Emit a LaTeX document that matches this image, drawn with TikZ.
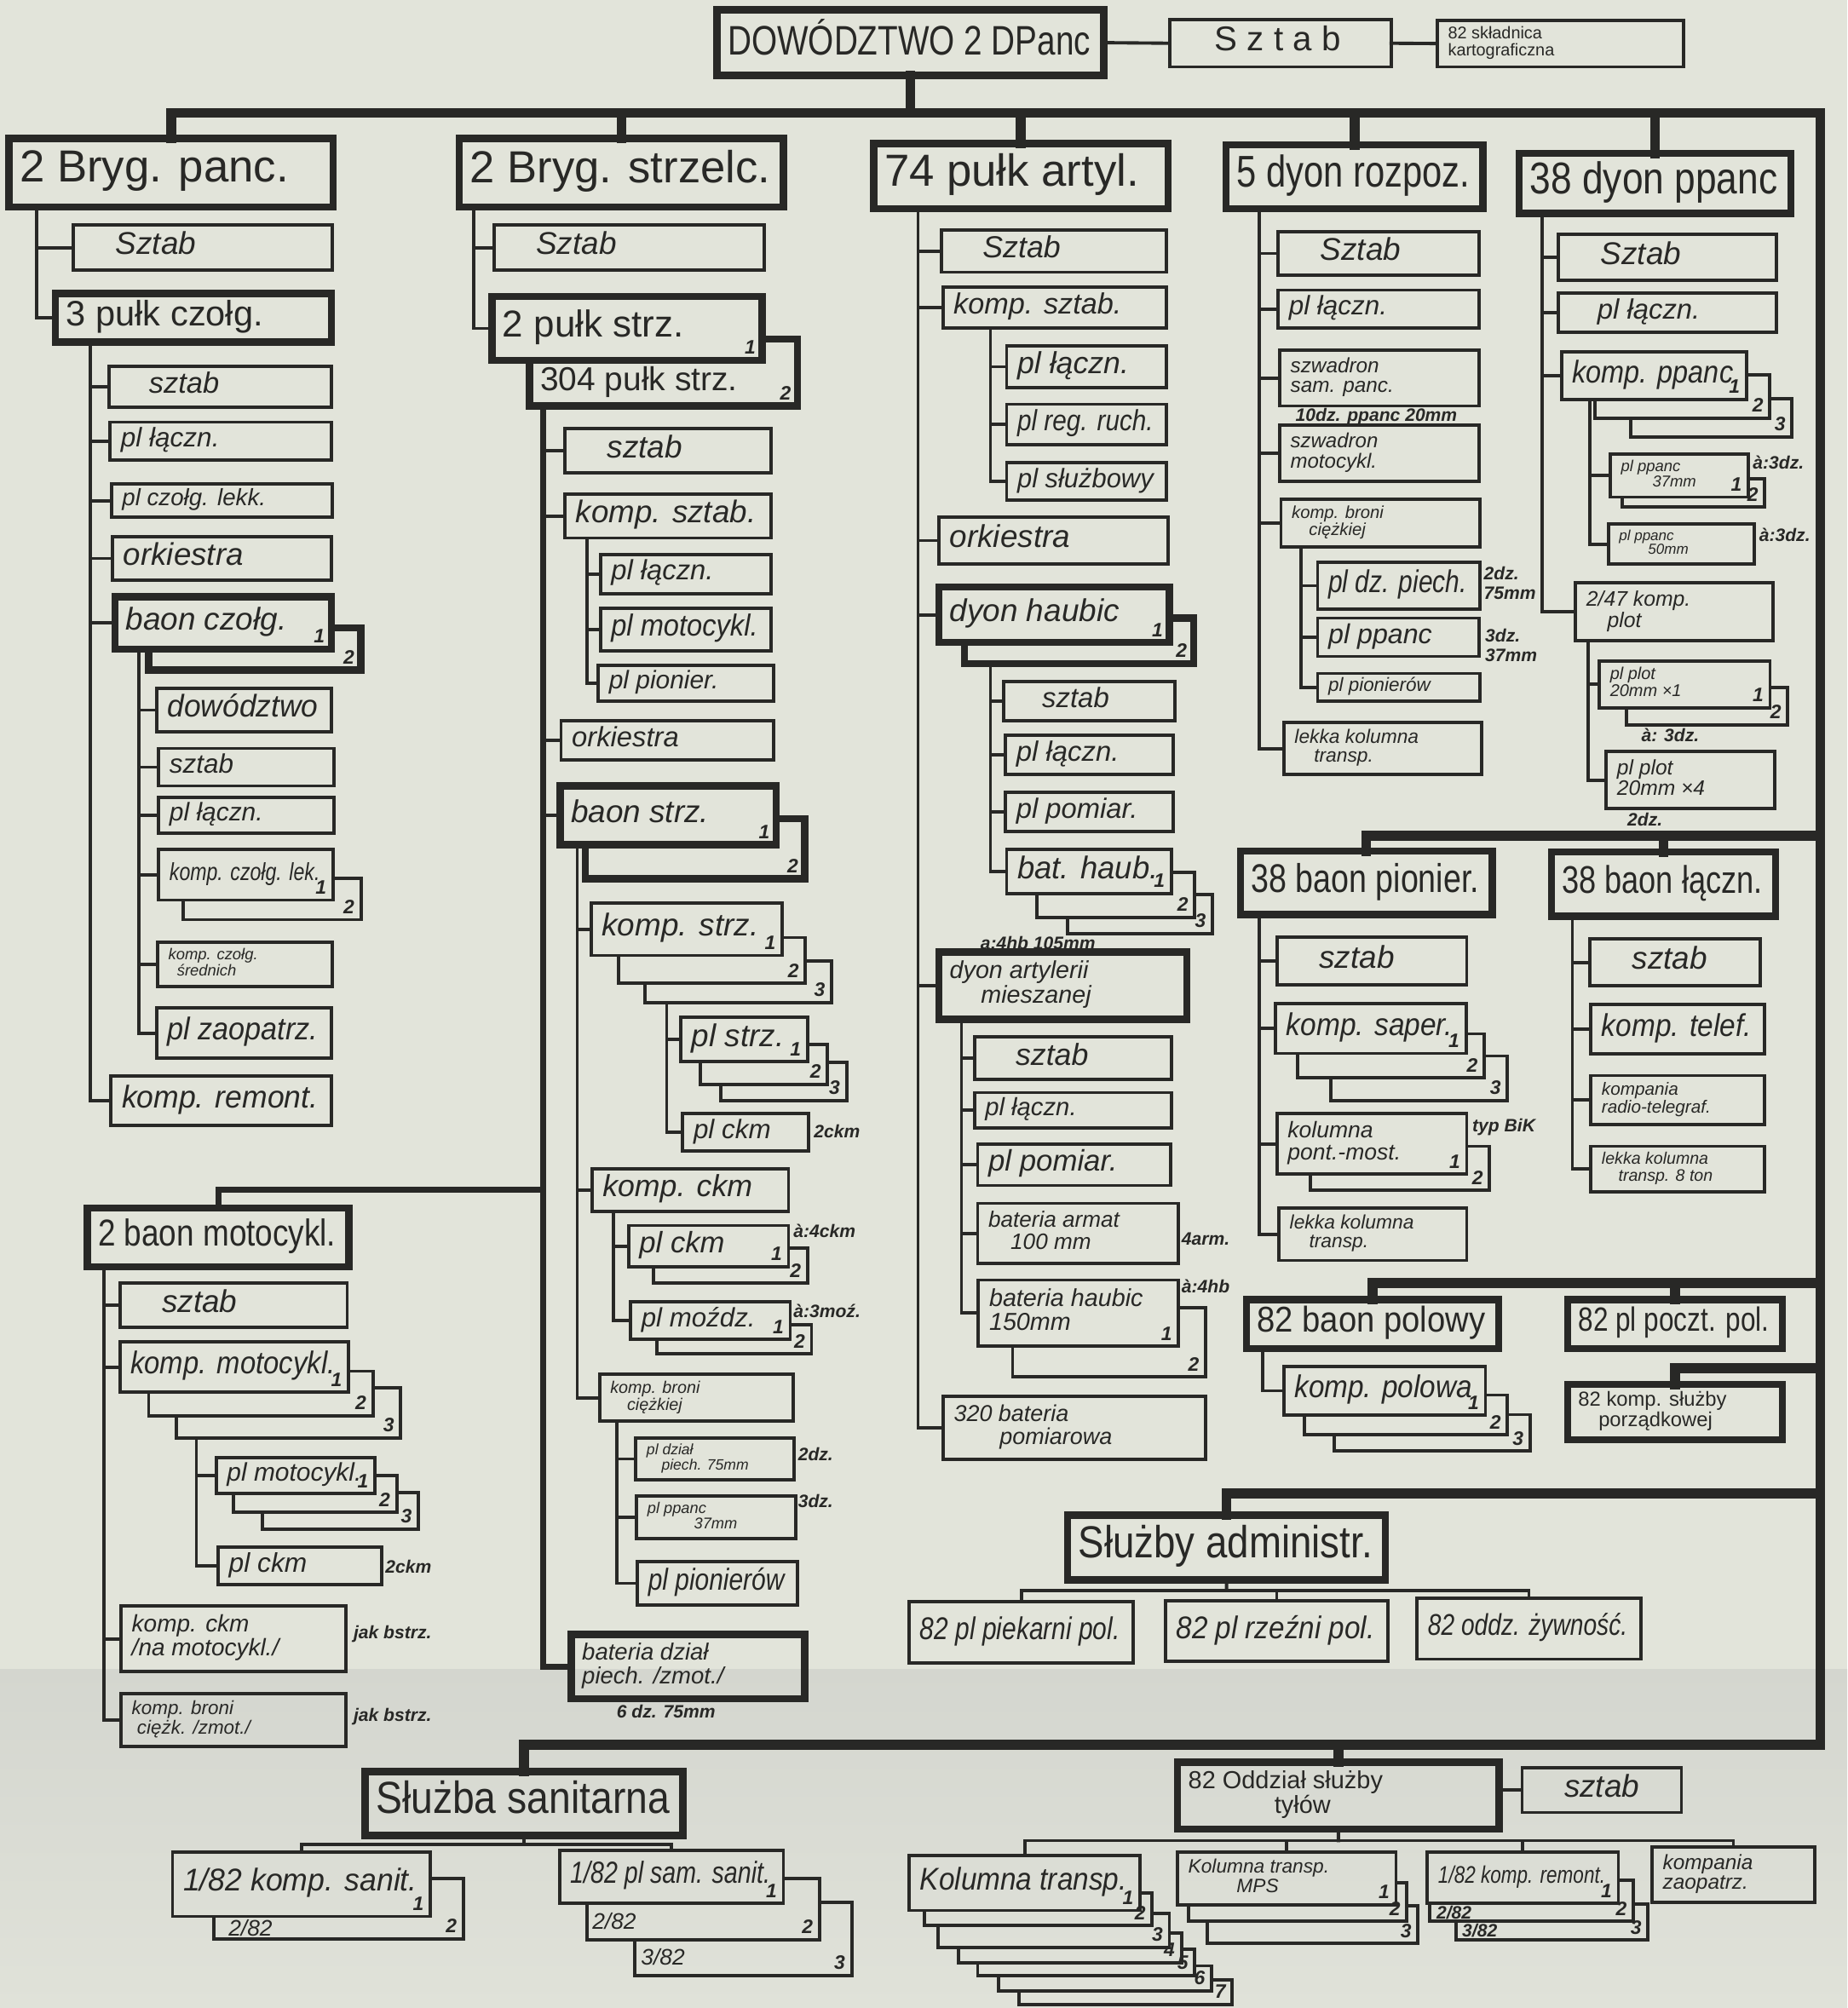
\documentclass[tikz,border=0pt]{standalone}
\usepackage{fontspec}
\setmainfont{Liberation Sans}
\usepackage{graphicx}
\usetikzlibrary{fit,calc}
\definecolor{paper}{RGB}{226,228,218}
\definecolor{ink}{RGB}{40,40,38}
\definecolor{fold}{RGB}{212,214,207}
\definecolor{lowpaper}{RGB}{224,226,217}
\newsavebox\fbbox
\newdimen\fbw \newdimen\fbh
\renewcommand\arraystretch{0.8}
\makeatletter
\newcommand\fitbx[3]{%
  \sbox\fbbox{\begin{tabular}{@{}l@{}}#3\end{tabular}}%
  \fbw=\wd\fbbox\relax
  \fbh=\ht\fbbox\relax
  \advance\fbh by \dp\fbbox\relax
  \edef\fbW{\strip@pt\fbw}\edef\fbH{\strip@pt\fbh}%
  \pgfmathsetmacro\fbY{min(1,#2/\fbH)}%
  \pgfmathsetmacro\fbX{min(\fbY,#1/\fbW)}%
  \pgfmathsetmacro\fbY{min(\fbY,\fbX/0.8)}%
  \scalebox{\fbX}[\fbY]{\usebox\fbbox}}
\makeatother
\tikzset{
 bx/.style={draw=ink,line width=1.1pt,inner sep=0pt,outer sep=0pt},
 thk/.style={line width=2.4pt},
 up/.style={font=\fontsize{12.5}{14.5}\selectfont\upshape},
 big/.style={thk,font=\fontsize{15}{17}\selectfont\upshape},
 tx/.style={inner sep=0pt,outer sep=0pt,text=ink,font=\fontsize{10.5}{12.5}\selectfont\itshape},
 tr/.style={draw=ink,line width=1.1pt,line cap=rect},
 thc/.style={line width=2pt},
 bus/.style={draw=ink,line width=3.3pt,line cap=rect},
 lab/.style={text=ink,inner sep=1pt,font=\fontsize{6.5}{7}\selectfont\bfseries\itshape},
 ann/.style={text=ink,inner sep=0pt,anchor=west,font=\fontsize{6}{6.5}\selectfont\bfseries\itshape},
 ann2/.style={ann,font=\fontsize{7.5}{8}\selectfont\itshape},
}
% box: [style]{name}{x1}{y1}{x2}{y2}{text}
\newcommand\bxn[7][]{%
  \node[bx,#1,fit={(#3,#4) (#5,#6)}] (#2) {};
  \pgfmathsetmacro\bxW{(#5-#3)*0.4277-8}%
  \pgfmathsetmacro\bxH{(#6-#4)*0.4277*0.76-0.5}%
  \node[tx,#1,anchor=west] (#2-t) at ([xshift=3.6pt]#2.west) {\fitbx{\bxW}{\bxH}{#7}};}
% stacked copy: [style]{name}{xs}{ys}{xr}{yb}{xl}{yt}{label}
\newcommand\stk[9][]{%
  \draw[tr,#1] (#3,#4) -| (#5,#6) -| (#7,#8);
  \node[lab,anchor=south east,xshift=-1pt,yshift=0.8pt] (#2) at (#5,#6) {#9};}
\newcommand\lone[2][1]{%
  \node[lab,anchor=south east,xshift=-1pt,yshift=0.8pt] (#2-n) at (#2.south east) {#1};}
\begin{document}
\begin{tikzpicture}[x=0.015035cm,y=-0.015035cm]
\fill[paper] (0,0) rectangle (1442,1567.7);
\shade[top color=fold,bottom color=lowpaper] (0,1303) rectangle (1442,1567.7);
\useasboundingbox (0,0) rectangle (1442,1567.7);

% ---------- top ----------
\bxn[big]{dow}{559.8}{7.6}{861.7}{59}{DOWÓDZTWO 2 DPanc}
\bxn[up]{sz0}{913}{15.3}{1086}{52.2}{\quad S z t a b}
\bxn[up]{kart}{1122}{15.8}{1314}{52.2}{82 składnica\\ kartograficzna}
\draw[tr] (dow.east) -- (sz0.west);
\draw[tr] (sz0.east) -- (kart.west);

% ---------- column 1 ----------
\bxn[big]{bp}{7}{108}{260}{161.6}{2 Bryg. panc.}
\bxn{bp-s}{57.3}{175.6}{259.5}{211}{\quad Sztab}
\bxn[thk,up]{p3}{43.4}{229}{258.6}{267}{3 pułk czołg.}
\coordinate (Tbp) at (28.5,161.6);
\foreach \nn in {bp-s,p3} \draw[tr] (Tbp) |- (\nn.west);
\bxn{p3-s}{85}{286}{258.6}{318}{\quad sztab}
\bxn{p3-l}{86}{329.6}{258.6}{359}{pl łączn.}
\bxn{p3-c}{87}{378}{259.5}{404}{pl czołg. lekk.}
\bxn{p3-o}{88}{419}{258.6}{453}{orkiestra}
\bxn[thk]{p3-b}{89.8}{466}{258.6}{506.7}{baon czołg.}
\lone{p3-b}
\stk[thk]{p3-b2}{258.6}{490}{281.8}{523.2}{116}{506.7}{2}
\bxn{p3-r}{86.7}{840.2}{258.6}{878.4}{komp. remont.}
\coordinate (Tp3) at (70.5,267);
\foreach \nn in {p3-s,p3-l,p3-c,p3-o,p3-b,p3-r} \draw[tr] (Tp3) |- (\nn.west);
\bxn{bc-d}{122.3}{537.2}{258.6}{571.6}{dowództwo}
\bxn{bc-s}{123.9}{584.3}{261}{613.6}{sztab}
\bxn{bc-l}{123.9}{622.5}{261}{650.5}{pl łączn.}
\bxn{bc-k}{123.9}{663.2}{260}{702.7}{komp. czołg. lek.}
\lone{bc-k}
\stk{bc-k2}{260}{685.6}{281.8}{718}{143}{702.7}{2}
\bxn{bc-m}{123}{735.7}{259.5}{770}{komp. czołg.\\ \ \ średnich}
\bxn{bc-z}{122.3}{786.8}{258.6}{826.2}{pl zaopatrz.}
\coordinate (Tbc) at (108.4,506.7);
\foreach \nn in {bc-d,bc-s,bc-l,bc-k,bc-m,bc-z} \draw[tr] (Tbc) |- (\nn.west);

% ---------- column 2 ----------
\bxn[big]{b2}{358.6}{108}{611.6}{161.6}{2 Bryg. strzelc.}
\bxn{b2-s}{385.6}{175.6}{596.8}{211}{\quad Sztab}
\bxn[thk,up]{p2}{384}{231.6}{595}{281.2}{2 pułk strz.}
\lone{p2}
\bxn[thk,up,draw=none]{p304}{413.4}{281.2}{622.6}{316.9}{304 pułk strz.}
\draw[tr,thk] (595,264.7) -| (622.6,316.9) -| (413.4,281.2);
\node[lab,anchor=south east,xshift=-1pt,yshift=0.8pt] (p304-n) at (622.6,316.9) {2};
\coordinate (Tb2) at (370,161.6);
\foreach \nn in {b2-s,p2} \draw[tr] (Tb2) |- (\nn.west);

\bxn{c-s}{441}{334.7}{602}{369}{\quad sztab}
\bxn{c-ks}{441}{386}{602}{420}{komp. sztab.}
\bxn{ks-l}{468.7}{432.9}{602}{463.4}{pl łączn.}
\bxn{ks-m}{468.7}{474.9}{602}{508}{pl motocykl.}
\bxn{ks-p}{467}{519.4}{603.7}{547.4}{pl pionier.}
\coordinate (Tks) at (458.4,420);
\foreach \nn in {ks-l,ks-m,ks-p} \draw[tr] (Tks) |- (\nn.west);
\bxn{c-o}{438}{562.7}{603.7}{593.2}{orkiestra}
\bxn[thk]{c-b}{437.3}{613.6}{605.9}{659.4}{baon strz.}
\lone{c-b}
\stk[thk]{c-b2}{605.9}{639}{628.2}{686.1}{456.8}{659.4}{2}
\bxn[thk]{c-bd}{446}{1276}{628.2}{1326.2}{bateria dział\\ piech. /zmot./}
\node[ann] (c-bd-a) at (481,1336) {6 dz. 75mm};
\coordinate (T304) at (424.3,316.9);
\draw[tr,thc] (T304) |- (c-bd.west);
\foreach \nn in {c-s,c-ks,c-o,c-b} \draw[tr] (T304 |- \nn.west) -- (\nn.west);

\coordinate (Tbs) at (450.6,659.4);
\bxn{bs-k}{461.5}{705.2}{610.6}{745.9}{komp. strz.}
\lone{bs-k}
\stk{bs-k2}{610.6}{732}{628.8}{767.6}{482.9}{745.9}{2}
\stk{bs-k3}{628.8}{750}{649.2}{783}{503.3}{767.6}{3}
\bxn{bs-c}{462}{912.7}{615.6}{945.8}{komp. ckm}
\bxn{bs-b}{468}{1073}{619.4}{1109.5}{komp. broni\\ \quad ciężkiej}
\foreach \nn in {bs-k,bs-c,bs-b} \draw[tr] (Tbs) |- (\nn.west);

\coordinate (Tk) at (520.5,783);
\bxn{k-s}{531.5}{794.4}{630.4}{828.8}{pl strz.}
\lone{k-s}
\stk{k-s2}{630.4}{815.3}{646.1}{846.6}{546.6}{828.8}{2}
\stk{k-s3}{646.1}{829.5}{660.9}{859.3}{562.9}{846.6}{3}
\bxn{k-c}{533}{869.5}{631.3}{898.8}{pl ckm}
\node[ann] (k-c-a) at (635,883.5) {2ckm};
\foreach \nn in {k-s,k-c} \draw[tr] (Tk) |- (\nn.west);

\coordinate (Tc) at (478.8,945.8);
\bxn{c-c}{490.7}{956.8}{615.6}{989}{pl ckm}
\lone{c-c}
\stk{c-c2}{615.6}{974.6}{630.4}{1001.8}{510.2}{989}{2}
\node[ann] (c-c-a) at (619,961) {à:4ckm};
\bxn{c-m}{492.3}{1016.3}{616.9}{1045.8}{pl moźdz.}
\lone{c-m}
\stk{c-m2}{616.9}{1034}{633.5}{1057}{512.7}{1045.8}{2}
\node[ann] (c-m-a) at (619,1023.5) {à:3moź.};
\foreach \nn in {c-c,c-m} \draw[tr] (Tc) |- (\nn.west);

\coordinate (Tb) at (481.3,1109.5);
\bxn{b-d}{496.4}{1122.7}{620}{1155.3}{pl dział\\ \quad piech. 75mm}
\node[ann] (b-d-a) at (622.6,1135.4) {2dz.};
\bxn{b-p}{497}{1167.9}{621}{1201.3}{pl ppanc\\ \hspace*{3em}37mm}
\node[ann] (b-p-a) at (622.6,1172) {3dz.};
\bxn{b-n}{497.6}{1219.4}{622.5}{1252.8}{pl pionierów}
\foreach \nn in {b-d,b-p,b-n} \draw[tr] (Tb) |- (\nn.west);

% 2 baon motocykl.
\bxn[thk,up]{bm}{68.1}{943.3}{272.5}{989}{2 baon motocykl.}
\coordinate (m1) at (424.3,929);
\draw[tr,thc] (m1) -| (bm.north);
\coordinate (Tbm) at (81.1,989);
\bxn{bm-s}{93.5}{1001.8}{271}{1036.2}{\quad sztab}
\bxn{bm-k}{93.5}{1047.6}{272}{1087}{komp. motocykl.}
\lone{bm-k}
\stk{bm-k2}{272}{1070.5}{291.1}{1105.4}{116.1}{1087}{2}
\stk{bm-k3}{291.1}{1083.3}{312.8}{1122.7}{137.8}{1105.4}{3}
\bxn{bm-c}{94.5}{1254}{270}{1305}{komp. ckm\\ /na motocykl./}
\node[ann] (bm-c-a) at (275.6,1276) {jak bstrz.};
\bxn{bm-b}{94.5}{1322.4}{270}{1363.6}{komp. broni\\ \ ciężk. /zmot./}
\node[ann] (bm-b-a) at (275.6,1340.4) {jak bstrz.};
\foreach \nn in {bm-s,bm-k,bm-c,bm-b} \draw[tr] (Tbm) |- (\nn.west);
\coordinate (Tmk) at (153.3,1122.7);
\bxn{mk-p}{168.8}{1138}{292.7}{1166}{pl motocykl.}
\lone{mk-p}
\stk{mk-p2}{292.7}{1152}{309.7}{1180.7}{182}{1166}{2}
\stk{mk-p3}{309.7}{1165}{326.7}{1193.6}{205}{1180.7}{3}
\bxn{mk-c}{170.3}{1207.8}{298}{1237.4}{pl ckm}
\node[ann] (mk-c-a) at (300.4,1223) {2ckm};
\foreach \nn in {mk-p,mk-c} \draw[tr] (Tmk) |- (\nn.west);

% ---------- column 3 ----------
\bxn[big]{a74}{682}{112}{912}{163}{74 pułk artyl.}
\coordinate (Ta) at (716.7,163);
\bxn{a-s}{735}{179.4}{910.7}{212.5}{\quad Sztab}
\bxn{a-ks}{736}{224}{910.7}{255.8}{komp. sztab.}
\bxn{a-o}{733}{403.6}{912}{440.5}{orkiestra}
\bxn[thk]{a-dh}{733}{458.3}{913}{501.6}{dyon haubic}
\lone{a-dh}
\stk[thk]{a-dh2}{913}{482.5}{931.7}{518.1}{752.8}{501.6}{2}
\bxn[thk]{a-dm}{733}{743.4}{926.4}{795.7}{dyon artylerii\\ \quad\ mieszanej}
\bxn{a-b}{736.2}{1090.1}{941.2}{1139.3}{320 bateria\\ \hspace*{2em}pomiarowa}
\foreach \nn in {a-s,a-ks,a-o,a-dh,a-dm,a-b} \draw[tr] (Ta) |- (\nn.west);
\coordinate (Taks) at (773.2,255.8);
\bxn{aks-l}{785.8}{269.8}{910.7}{302.9}{pl łączn.}
\bxn{aks-r}{785.8}{315.6}{910.7}{347.4}{pl reg. ruch.}
\bxn{aks-s}{785.8}{361.4}{910.7}{390.7}{pl służbowy}
\foreach \nn in {aks-l,aks-r,aks-s} \draw[tr] (Taks) |- (\nn.west);
\coordinate (Tdh) at (773.2,518.1);
\bxn{dh-s}{783.3}{532.1}{917}{562.7}{\quad sztab}
\bxn{dh-l}{785}{574.1}{916}{604.7}{pl łączn.}
\bxn{dh-p}{785}{618.7}{916}{649.2}{pl pomiar.}
\bxn{dh-b}{785.8}{663.2}{914.5}{697.6}{bat. haub.}
\lone{dh-b}
\stk{dh-b2}{914.5}{681}{932.7}{716.1}{809.3}{697.6}{2}
\stk{dh-b3}{932.7}{698.3}{946.5}{728.9}{833.5}{716.1}{3}
\node[ann] (dh-b-a) at (765,736) {a:4hb 105mm};
\foreach \nn in {dh-s,dh-l,dh-p,dh-b} \draw[tr] (Tdh) |- (\nn.west);
\coordinate (Tdm) at (750.6,795.7);
\bxn{dm-s}{760.7}{809.7}{914.5}{842.8}{\quad sztab}
\bxn{dm-l}{760.7}{853}{914.5}{880.4}{pl łączn.}
\bxn{dm-p}{763.2}{893.2}{913.9}{925.5}{pl pomiar.}
\bxn{dm-a}{763.2}{939.5}{920.1}{986.6}{bateria armat\\ \quad 100 mm}
\node[ann] (dm-a-a) at (922,967) {4arm.};
\bxn{dm-h}{763.8}{999.3}{920}{1051}{bateria haubic\\ 150mm}
\lone{dm-h}
\stk{dm-h2}{920}{1021}{941.2}{1074.9}{790.5}{1051}{2}
\node[ann] (dm-h-a) at (922,1004.4) {à:4hb};
\foreach \nn in {dm-s,dm-l,dm-p,dm-a,dm-h} \draw[tr] (Tdm) |- (\nn.west);

% ---------- column 4 ----------
\bxn[big]{r5}{957}{113}{1157.7}{163}{5 dyon rozpoz.}
\coordinate (Tr5) at (983.2,163);
\bxn{r5-s}{997.8}{180.7}{1154.5}{215}{\quad Sztab}
\bxn{r5-l}{997.8}{226.5}{1154.5}{255.8}{pl łączn.}
\bxn{r5-sp}{999}{273.6}{1154.5}{316.9}{szwadron\\ sam. panc.}
\node[ann] (r5-sp-a) at (1011,325.5) {10dz. ppanc 20mm};
\bxn{r5-sm}{999}{332}{1154.5}{376}{szwadron\\ motocykl.}
\bxn{r5-kb}{1000}{389.6}{1155.5}{427}{komp. broni\\ \quad ciężkiej}
\bxn{r5-lk}{1002.2}{564}{1156.5}{604.7}{lekka kolumna\\ \quad transp.}
\foreach \nn in {r5-s,r5-l,r5-sp,r5-sm,r5-kb,r5-lk} \draw[tr] (Tr5) |- (\nn.west);
\coordinate (Tkb) at (1015.9,427);
\bxn{kb-d}{1028.6}{439.2}{1155.5}{475.4}{pl dz. piech.}
\node[ann,align=left] (kb-d-a) at (1158,455) {2dz.\\75mm};
\bxn{kb-p}{1028.6}{482.5}{1154.5}{512.5}{pl ppanc}
\node[ann,align=left] (kb-p-a) at (1159,504) {3dz.\\37mm};
\bxn{kb-n}{1028.6}{525.8}{1155.5}{547.4}{pl pionierów}
\foreach \nn in {kb-d,kb-p,kb-n} \draw[tr] (Tkb) |- (\nn.west);

% ---------- column 5 ----------
\bxn[big]{d38}{1186}{119.6}{1398}{166.7}{38 dyon ppanc}
\coordinate (Td) at (1204,166.7);
\bxn{d-s}{1216.7}{182.7}{1387}{218.9}{\quad Sztab}
\bxn{d-l}{1216.7}{229}{1387}{259.6}{\quad pl łączn.}
\bxn{d-k}{1219}{274.9}{1363.3}{311.8}{komp. ppanc}
\lone{d-k}
\stk{d-k2}{1363.3}{292.7}{1381.7}{326.3}{1245.3}{311.8}{2}
\stk{d-k3}{1381.7}{311}{1398.9}{341}{1272.9}{326.3}{3}
\bxn{d-p}{1230}{455}{1384}{500.3}{2/47 komp.\\ \quad plot}
\foreach \nn in {d-s,d-l,d-k,d-p} \draw[tr] (Td) |- (\nn.west);
\coordinate (Tdk) at (1241.2,311.8);
\bxn{dk-1}{1257}{354.3}{1364.9}{388.1}{pl ppanc\\ \hspace*{2em}37mm}
\lone{dk-1}
\stk{dk-12}{1364.9}{373.6}{1377.6}{396}{1266.6}{388.1}{2}
\node[ann] (dk-1-a) at (1368,360.9) {à:3dz.};
\bxn{dk-2}{1255.5}{409.2}{1369.7}{440.5}{pl ppanc\\ \hspace*{2em}50mm}
\node[ann] (dk-2-a) at (1372.9,417.6) {à:3dz.};
\foreach \nn in {dk-1,dk-2} \draw[tr] (Tdk) |- (\nn.west);
\coordinate (Tdp) at (1239.6,500.3);
\bxn{dp-1}{1248.5}{516.1}{1381.8}{552.5}{pl plot\\ 20mm ×1}
\lone{dp-1}
\stk{dp-12}{1381.8}{536.5}{1395.7}{566}{1269.7}{552.5}{2}
\node[ann] (dp-1-a) at (1281,574) {à: 3dz.};
\bxn{dp-4}{1253.9}{586.9}{1385.5}{631.4}{pl plot\\ 20mm ×4}
\node[ann] (dp-4-a) at (1270,640) {2dz.};
\foreach \nn in {dp-1,dp-4} \draw[tr] (Tdp) |- (\nn.west);

% ---------- right groups ----------
\bxn[big]{pi}{968.3}{664.5}{1165}{714.1}{38 baon pionier.}
\bxn[big]{lc}{1211}{665.2}{1386.2}{715.4}{38 baon łączn.}
\coordinate (Tpi) at (983.2,714.1);
\bxn{pi-s}{996.9}{731.9}{1145}{768.8}{\quad sztab}
\bxn{pi-k}{995.9}{783.7}{1144.4}{822.4}{komp. saper.}
\lone{pi-k}
\stk{pi-k2}{1144.4}{807.1}{1158.7}{841.5}{1012.7}{822.4}{2}
\stk{pi-k3}{1158.7}{824.4}{1176.8}{859.3}{1039}{841.5}{3}
\bxn{pi-m}{996.9}{869.5}{1145}{916.6}{kolumna\\ pont.-most.}
\lone{pi-m}
\stk{pi-m2}{1145}{894.9}{1162.8}{929.3}{1023.2}{916.6}{2}
\node[ann] (pi-m-a) at (1149,880) {typ BiK};
\bxn{pi-l}{998.4}{943.3}{1145}{984}{lekka kolumna\\ \quad transp.}
\foreach \nn in {pi-s,pi-k,pi-m,pi-l} \draw[tr] (Tpi) |- (\nn.west);
\coordinate (Tlc) at (1227.5,715.4);
\bxn{lc-s}{1241.2}{733.2}{1374.4}{769.6}{\quad sztab}
\bxn{lc-t}{1242}{784.2}{1377.6}{822.9}{komp. telef.}
\bxn{lc-r}{1242}{839.7}{1377.6}{877.9}{kompania\\ radio-telegraf.}
\bxn{lc-l}{1242}{894.9}{1377.6}{930.6}{lekka kolumna\\ \quad transp. 8 ton}
\foreach \nn in {lc-s,lc-t,lc-r,lc-l} \draw[tr] (Tlc) |- (\nn.west);

\bxn[big]{bp82}{973}{1014.5}{1169.8}{1052.7}{82 baon polowy}
\coordinate (Tbp82) at (985.7,1052.7);
\bxn{bp82-k}{1002.2}{1066.7}{1159.6}{1104.9}{komp. polowa}
\lone{bp82-k}
\stk{bp82-k2}{1159.6}{1089.1}{1176.8}{1120.2}{1018.1}{1104.9}{2}
\stk{bp82-k3}{1176.8}{1104.4}{1194.5}{1132.9}{1041.3}{1120.2}{3}
\draw[tr] (Tbp82) |- (bp82-k.west);
\bxn[big]{pp82}{1223.7}{1014.5}{1391.3}{1052.7}{82 pl poczt. pol.}
\bxn[thk,up]{ks82}{1223.7}{1080.7}{1391.3}{1124}{82 komp. służby\\ \quad porządkowej}

\bxn[big]{sadm}{833.5}{1183}{1081.6}{1233.5}{Służby administr.}
\bxn{pk}{709.8}{1250.3}{884.7}{1298.4}{82 pl piekarni pol.}
\bxn{rz}{909.8}{1250}{1083.5}{1297}{82 pl rzeźni pol.}
\bxn{zyw}{1106.3}{1247.7}{1280.8}{1295.3}{82 oddz. żywność.}
\coordinate (sj) at (957.5,1241.5);
\draw[tr] (sadm.south) -- (sj);
\foreach \nn in {pk,rz,zyw} \draw[tr] (sj) -| (\nn.north);

% ---------- bottom ----------
\bxn[big]{ss}{285}{1383}{533.1}{1433}{Służba sanitarna}
\bxn{ss-1}{134.7}{1446}{336}{1496.2}{1/82 komp. sanit.}
\lone{ss-1}
\stk{ss-12}{336}{1466.6}{361.7}{1513.7}{167.2}{1496.2}{2}
\node[ann2] (ss-1-a) at (178,1505.5) {2/82};
\bxn{ss-2}{436.7}{1444.7}{611.6}{1485.9}{1/82 pl sam. sanit.}
\lone{ss-2}
\stk{ss-22}{611.6}{1466.6}{639.8}{1514.2}{458.4}{1485.9}{2}
\node[ann2] (ss-2-a) at (462,1500) {2/82};
\stk{ss-23}{639.8}{1485.4}{664.9}{1542.5}{495.4}{1514.2}{3}
\node[ann2] (ss-2-b) at (500,1528) {3/82};
\coordinate (snj) at (409,1440);
\draw[tr] (ss.south) -- (snj);
\foreach \nn in {ss-1,ss-2} \draw[tr] (snj) -| (\nn.north);

\bxn[big]{ost}{919.2}{1375.7}{1170.4}{1428}{82 Oddział służby\\ \hspace*{3.5em}tyłów}
\bxn{ost-s}{1188.2}{1380.3}{1312.6}{1415}{\quad sztab}
\draw[tr] (ost.east |- ost-s.west) -- (ost-s.west);
\bxn{kt}{709.8}{1448.5}{890}{1491.5}{Kolumna transp.}
\lone{kt}
\stk{kt2}{890}{1477.6}{899.4}{1503.4}{721.4}{1491.5}{2}
\stk{kt3}{899.4}{1494}{912.9}{1520.6}{732.4}{1503.4}{3}
\stk{kt4}{912.9}{1509}{922.3}{1532.2}{748.1}{1520.6}{4}
\stk{kt5}{922.3}{1522}{932.7}{1542.5}{763.2}{1532.2}{5}
\stk{kt6}{932.7}{1534.8}{945.9}{1554.1}{779.5}{1542.5}{6}
\stk{kt7}{945.9}{1546}{962}{1565}{795.2}{1554.1}{7}
\bxn{km}{919.2}{1446}{1089.8}{1487.2}{Kolumna transp.\\ \hspace*{2.5em}MPS}
\lone{km}
\stk{km2}{1089.8}{1470}{1098.4}{1500}{928}{1487.2}{2}
\stk{km3}{1098.4}{1488}{1107}{1517.3}{942.7}{1500}{3}
\bxn{kr}{1114.3}{1446}{1263.4}{1485.9}{1/82 komp. remont.}
\lone{kr}
\stk{kr2}{1263.4}{1467.9}{1275.1}{1500}{1115.8}{1485.9}{2}
\node[ann] (kr-a) at (1121,1493.5) {2/82};
\stk{kr3}{1275.1}{1486.4}{1286.5}{1514.7}{1136.5}{1500}{3}
\node[ann] (kr-b) at (1141,1507.5) {3/82};
\bxn{kz}{1289.7}{1442}{1416.6}{1485.4}{kompania\\ zaopatrz.}
\coordinate (oj) at (1044.8,1437);
\draw[tr] (ost.south) -- (oj);
\foreach \nn in {kt,km,kr,kz} \draw[tr] (oj) -| (\nn.north);

% ---------- main bus ----------
\coordinate (busR) at (1421,88);
\coordinate (busB) at (1421,1362);
\draw[bus] (bp.north) |- (busR) -- (busB) -| (ss.north);
\draw[bus] (dow.south) -- (dow.south |- busR);
\foreach \nn in {b2,a74,r5,d38} \draw[bus] (\nn.north) -- (\nn.north |- busR);
\draw[bus] (ost.north) -- (ost.north |- busB);
\coordinate (r1) at (1421,652.5);
\draw[bus] (pi.north) |- (r1);
\draw[bus] (lc.north) -- (lc.north |- r1);
\coordinate (r2) at (1421,1001.8);
\draw[bus] (bp82.north) |- (r2);
\draw[bus] (pp82.north) -- (pp82.north |- r2);
\coordinate (r3) at (1421,1068);
\draw[bus] (ks82.north) |- (r3);
\coordinate (r4) at (1421,1166);
\draw[bus] (sadm.north) |- (r4);
\end{tikzpicture}
\end{document}
